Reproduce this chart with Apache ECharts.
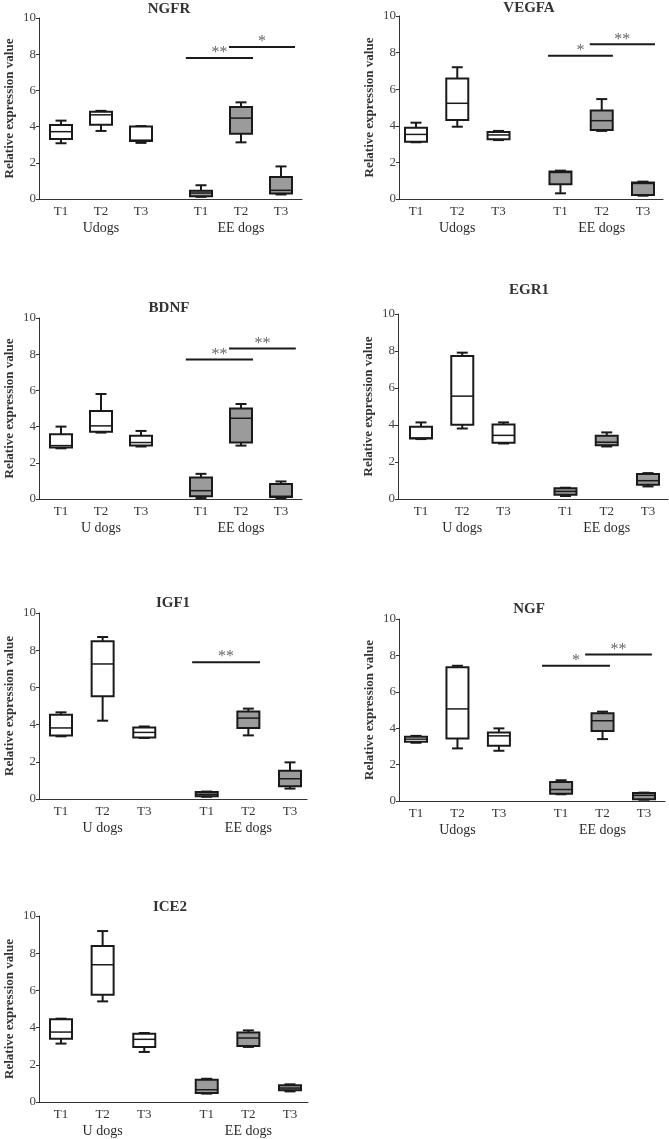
<!DOCTYPE html>
<html>
<head>
<meta charset="utf-8">
<script src="https://cdn.jsdelivr.net/npm/echarts@6/dist/echarts.min.js"></script>
<style>
  html, body { margin: 0; padding: 0; background: #fff; }
  #chart { width: 669px; height: 1139px; }
</style>
</head>
<body>
<div id="chart"></div>
<script>
// gene names, in panel order
const genes = ['NGFR', 'VEGFA', 'BDNF', 'EGR1', 'IGF1', 'NGF', 'ICE2'];
const timePoints = ['T1', 'T2', 'T3', 'T1', 'T2', 'T3'];
const xPositions = [1, 2, 3, 4.5, 5.5, 6.5];
const filledBox = [0, 0, 0, 1, 1, 1];
const groupLabels = [
    ['Udogs', 'EE dogs'], ['Udogs', 'EE dogs'], ['U dogs', 'EE dogs'], ['U dogs', 'EE dogs'],
    ['U dogs', 'EE dogs'], ['Udogs', 'EE dogs'], ['U dogs', 'EE dogs']
];
const yTicks = [0, 2, 4, 6, 8, 10];

// box stats per group: [min, q1, median, q3, max]
const ngfr = [[3.08, 3.31, 3.72, 4.09, 4.33], [3.76, 4.1, 4.65, 4.82, 4.87], [3.1, 3.2, 3.25, 4.0, 4.03],
              [0.12, 0.15, 0.33, 0.46, 0.76], [3.13, 3.61, 4.47, 5.08, 5.34], [0.25, 0.3, 0.48, 1.22, 1.8]];
const vegfa = [[3.1, 3.13, 3.53, 3.9, 4.17], [3.95, 4.32, 5.23, 6.58, 7.2], [3.22, 3.26, 3.5, 3.66, 3.72],
               [0.31, 0.8, 1.45, 1.5, 1.55], [3.72, 3.77, 4.28, 4.83, 5.46], [0.18, 0.22, 0.85, 0.9, 0.95]];
const bdnf = [[2.8, 2.84, 2.95, 3.58, 4.0], [3.67, 3.72, 4.04, 4.86, 5.8], [2.9, 2.95, 3.12, 3.49, 3.76],
              [0.05, 0.15, 0.46, 1.19, 1.39], [2.95, 3.12, 4.46, 5.0, 5.25], [0.05, 0.11, 0.15, 0.83, 0.97]];
const egr1 = [[3.24, 3.27, 3.3, 3.9, 4.14], [3.81, 4.01, 5.56, 7.73, 7.91], [3.0, 3.04, 3.44, 4.03, 4.14],
              [0.16, 0.23, 0.41, 0.58, 0.61], [2.84, 2.9, 3.07, 3.42, 3.6], [0.68, 0.77, 0.99, 1.35, 1.4]];
const igf1 = [[3.37, 3.42, 3.82, 4.53, 4.66], [4.21, 5.52, 7.26, 8.48, 8.71], [3.28, 3.3, 3.58, 3.85, 3.9],
              [0.12, 0.15, 0.25, 0.37, 0.4], [3.42, 3.82, 4.35, 4.71, 4.86], [0.56, 0.68, 1.09, 1.52, 1.97]];
const ngf = [[3.2, 3.25, 3.4, 3.53, 3.58], [2.89, 3.44, 5.06, 7.35, 7.43], [2.76, 3.03, 3.58, 3.77, 3.99],
             [0.37, 0.4, 0.63, 1.05, 1.14], [3.4, 3.84, 4.41, 4.82, 4.91], [0.07, 0.09, 0.31, 0.44, 0.46]];
const ice2 = [[3.14, 3.4, 3.76, 4.45, 4.48], [5.41, 5.77, 7.38, 8.39, 9.19], [2.69, 2.96, 3.37, 3.67, 3.71],
              [0.45, 0.48, 0.66, 1.2, 1.25], [2.96, 3.01, 3.44, 3.73, 3.85], [0.57, 0.63, 0.75, 0.9, 0.95]];
const boxStats = [ngfr, vegfa, bdnf, egr1, igf1, ngf, ice2];

// significance bars: [x from, x to, y, label]
const ngfrSig = [[4.12, 5.8, 7.79, '**'], [5.2, 6.85, 8.4, '*']];
const vegfaSig = [[4.2, 5.77, 7.83, '*'], [5.21, 6.79, 8.45, '**']];
const bdnfSig = [[4.12, 5.8, 7.71, '**'], [5.2, 6.87, 8.31, '**']];
const igf1Sig = [[4.15, 5.78, 7.35, '**']];
const ngfSig = [[4.04, 5.68, 7.43, '*'], [5.08, 6.69, 8.05, '**']];
const sigBars = [ngfrSig, vegfaSig, bdnfSig, [], igf1Sig, ngfSig, []];

// panel layout in pixels: y-axis x, top (10), zero line, axis end, first and last box centre, title centre
const panels = [
    { left: 39, top: 18, zero: 199, end: 302, first: 61, last: 281, tx: 169, ty: 9 },
    { left: 399, top: 16, zero: 199, end: 663, first: 416, last: 643, tx: 529, ty: 8 },
    { left: 39, top: 318, zero: 499, end: 302, first: 61, last: 281, tx: 169, ty: 308 },
    { left: 398, top: 314, zero: 499, end: 668, first: 421, last: 648, tx: 529, ty: 290 },
    { left: 39, top: 613, zero: 799, end: 307, first: 61, last: 290, tx: 173, ty: 603 },
    { left: 399, top: 619, zero: 801, end: 665, first: 416, last: 644, tx: 529, ty: 609 },
    { left: 39, top: 916, zero: 1102, end: 308, first: 61, last: 290, tx: 170, ty: 907 }
];

const FONT = "'Liberation Serif', 'DejaVu Serif', serif";
const INK = '#1a1a1a';

const renderBox = (params, api) => {
    const x = api.value(0);
    const lo = api.coord([x, api.value(1)]);
    const q1 = api.coord([x, api.value(2)]);
    const med = api.coord([x, api.value(3)]);
    const q3 = api.coord([x, api.value(4)]);
    const hi = api.coord([x, api.value(5)]);
    const cx = lo[0];
    const half = 11, cap = 5.5;
    const line = { stroke: INK, lineWidth: 2 };
    return {
        type: 'group',
        children: [
            { type: 'line', shape: { x1: cx, y1: hi[1], x2: cx, y2: q3[1] }, style: line },
            { type: 'line', shape: { x1: cx, y1: q1[1], x2: cx, y2: lo[1] }, style: line },
            { type: 'line', shape: { x1: cx - cap, y1: hi[1], x2: cx + cap, y2: hi[1] }, style: line },
            { type: 'line', shape: { x1: cx - cap, y1: lo[1], x2: cx + cap, y2: lo[1] }, style: line },
            {
                type: 'rect',
                shape: { x: cx - half, y: q3[1], width: half * 2, height: q1[1] - q3[1] },
                style: { fill: api.value(6) ? '#9b9b9b' : '#fff', stroke: INK, lineWidth: 2 }
            },
            { type: 'line', shape: { x1: cx - half, y1: med[1], x2: cx + half, y2: med[1] }, style: { stroke: INK, lineWidth: 1.5 } }
        ]
    };
};

const makeSigRender = labels => (params, api) => {
    const y = api.value(2);
    const a = api.coord([api.value(0), y]);
    const b = api.coord([api.value(1), y]);
    return {
        type: 'group',
        children: [
            { type: 'line', shape: { x1: a[0], y1: a[1], x2: b[0], y2: b[1] }, style: { stroke: INK, lineWidth: 2 } },
            {
                type: 'text',
                x: (a[0] + b[0]) / 2, y: a[1] + 3,
                style: { text: labels[params.dataIndex], fill: '#666', font: '16px ' + FONT, align: 'center', verticalAlign: 'bottom' }
            }
        ]
    };
};

const grid = [], xAxis = [], yAxis = [], series = [], title = [];

panels.forEach((p, i) => {
    const unit = (p.last - p.first) / (xPositions[5] - xPositions[0]);
    const groups = groupLabels[i];
    grid.push({ left: p.left, top: p.top, width: p.end - p.left, height: p.zero - p.top, containLabel: false, outerBoundsMode: 'none' });
    title.push({
        text: genes[i], left: p.tx, top: p.ty - 7, textAlign: 'center', padding: 0,
        textStyle: { fontFamily: FONT, fontWeight: 'bold', fontSize: 15, color: '#333' }
    });
    xAxis.push({
        gridIndex: i, type: 'value',
        min: xPositions[0] - (p.first - p.left) / unit,
        max: xPositions[0] + (p.end - p.first) / unit,
        axisLine: { show: true, lineStyle: { color: '#333', width: 1 } },
        axisTick: { show: false },
        splitLine: { show: false },
        axisLabel: {
            customValues: xPositions,
            margin: 5,
            formatter: v => {
                const k = xPositions.findIndex(x => Math.abs(x - v) < 1e-6);
                const t = '{t|' + timePoints[k] + '}';
                if (k === 1) return t + '\n{g|' + groups[0] + '}';
                if (k === 4) return t + '\n{g|' + groups[1] + '}';
                return t;
            },
            rich: {
                t: { fontFamily: FONT, fontSize: 13, color: '#333', lineHeight: 15 },
                g: { fontFamily: FONT, fontSize: 14, color: '#2a2a2a', lineHeight: 19 }
            }
        }
    });
    yAxis.push({
        gridIndex: i, type: 'value', min: yTicks[0], max: yTicks[yTicks.length - 1], interval: 2,
        name: 'Relative expression value', nameLocation: 'middle', nameGap: 23, nameRotate: 90,
        nameTextStyle: { fontFamily: FONT, fontWeight: 'bold', fontSize: 13, color: '#333' },
        axisLine: { show: true, lineStyle: { color: '#333', width: 1 } },
        axisTick: { show: true, length: 3, lineStyle: { color: '#333' } },
        axisLabel: { fontFamily: FONT, fontSize: 13, color: '#444', margin: 3 },
        splitLine: { show: false }
    });
    series.push({
        type: 'custom', xAxisIndex: i, yAxisIndex: i,
        renderItem: renderBox,
        encode: { x: 0, y: [1, 2, 3, 4, 5] },
        data: boxStats[i].map((s, k) => [xPositions[k], ...s, filledBox[k]]),
        silent: true, clip: false
    });
    if (sigBars[i].length) {
        series.push({
            type: 'custom', xAxisIndex: i, yAxisIndex: i,
            renderItem: makeSigRender(sigBars[i].map(s => s[3])),
            encode: { x: [0, 1], y: 2 },
            data: sigBars[i].map(s => [s[0], s[1], s[2]]),
            silent: true, clip: false
        });
    }
});

const chart = echarts.init(document.getElementById('chart'));
chart.setOption({ animation: false, backgroundColor: '#fff', title, grid, xAxis, yAxis, series });
</script>
</body>
</html>
